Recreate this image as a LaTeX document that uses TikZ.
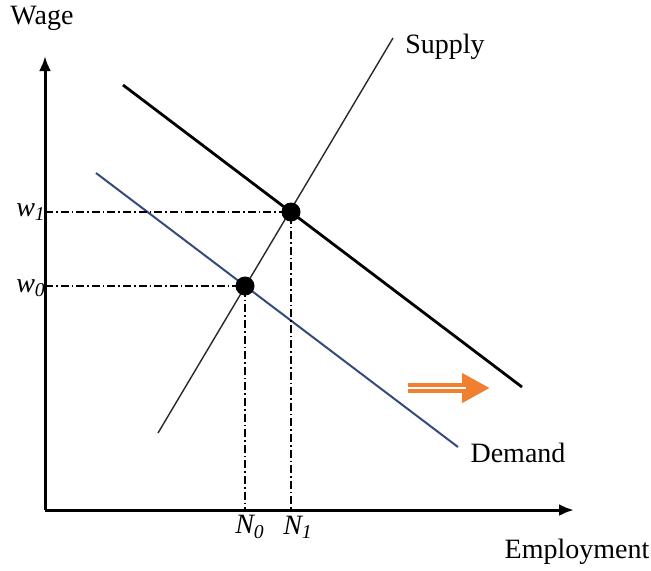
\documentclass[tikz,border=0pt]{standalone}
\usepackage{fontspec}
\setmainfont{Liberation Serif}
\usetikzlibrary{arrows.meta}
\definecolor{demandblue}{RGB}{52, 75, 125}
\definecolor{shiftorange}{RGB}{240, 128, 48}
\definecolor{supplygray}{RGB}{40, 40, 40}

\begin{document}
\begin{tikzpicture}[x=0.5pt, y=-0.5pt,
    axis/.style={-{Latex[length=7.5pt, width=6pt]}, line width=1.5pt},
    guide/.style={line width=0.6pt, dash pattern=on 4pt off 1.5pt on 0.8pt off 1.5pt},
    eqpt/.style={circle, fill=black, minimum size=9.5pt, inner sep=0pt},
    lbl/.style={font=\fontsize{14}{16}\selectfont, inner sep=1pt}
  ]
    \useasboundingbox (0, 0) rectangle (651, 570);

    % axes
    \coordinate (origin) at (45, 510);
    \coordinate (ytop) at (45, 56);
    \coordinate (xend) at (574, 510);
    \draw[axis] (origin) -- (ytop);
    \draw[axis] (origin) -- (xend);

    % curves
    \coordinate (s0) at (158, 433);
    \coordinate (s1) at (393, 38);
    \coordinate (d0a) at (96, 173);
    \coordinate (d0b) at (458, 447);
    \coordinate (d1a) at (123, 85);
    \coordinate (d1b) at (522, 387);
    \draw[supplygray, line width=0.7pt] (s0) -- (s1);
    \draw[demandblue, line width=1pt] (d0a) -- (d0b);
    \draw[black, line width=1.4pt] (d1a) -- (d1b);

    % equilibria
    \node[eqpt] (e0) at (245, 286) {};
    \node[eqpt] (e1) at (291, 212) {};
    \draw[guide] (origin |- e0) -- (e0.center) -- (e0.center |- origin);
    \draw[guide] (origin |- e1) -- (e1.center) -- (e1.center |- origin);

    % shift
    \coordinate (sh0) at (408, 388);
    \coordinate (sh1) at (490, 388);
    \draw[shiftorange, line width=5pt, -{Triangle[length=14pt, width=14pt]}] (sh0) -- (sh1);
    \draw[white, line width=0.6pt] (sh0) -- ++(58, 0);

    % labels
    \node[lbl] (wage) at (42, 18) {Wage};
    \node[lbl] (supply) at (445, 47) {Supply};
    \node[lbl] (demand) at (518, 453) {Demand};
    \node[lbl] (employ) at (577, 552) {Employment};
    \node[lbl] (w1) at (31, 212) {\itshape w\textsubscript{1}};
    \node[lbl] (w0) at (31, 288) {\itshape w\textsubscript{0}};
    \node[lbl] (n0) at (250, 527) {\itshape N\textsubscript{0}};
    \node[lbl] (n1) at (298, 527) {\itshape N\textsubscript{1}};
  \end{tikzpicture}
\end{document}
